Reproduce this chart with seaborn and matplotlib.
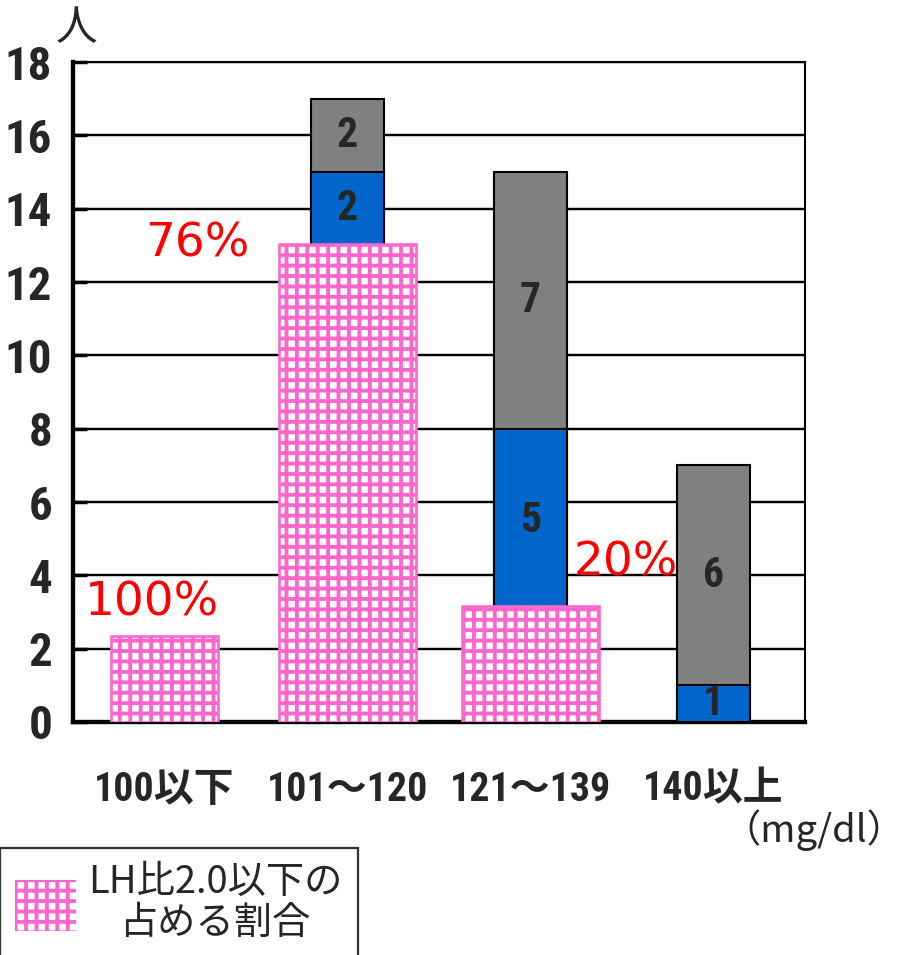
import matplotlib
matplotlib.use("Agg")
import matplotlib.pyplot as plt
from matplotlib import font_manager as fm
from matplotlib.patches import Patch
import seaborn as sns

# data
categories = ["100以下", "101～120", "121～139", "140以上"]
hidden_count = [0, 13, 3, 0]      # part of the stacked bar behind the pink bar
blue_count = [0, 2, 5, 1]
gray_count = [0, 2, 7, 6]
pink_height = [2.35, 13.05, 3.15]
pct_labels = ["100%", "76%", "20%"]
yticks = list(range(0, 19, 2))

sns.set_style("white")
plt.rcParams["font.family"] = ["Noto Sans CJK JP", "DejaVu Sans"]
plt.rcParams["hatch.linewidth"] = 2.2

# look for a condensed face for the numbers
fonts = fm.fontManager.ttflist
names = {f.name for f in fonts}
stretch = "normal"
narrow_face = None
for cand in ["Liberation Sans Narrow", "Roboto Condensed", "Open Sans Condensed",
             "Noto Sans Display"]:
    if cand in names:
        narrow_face = cand
        break
if narrow_face is None:
    for f in fonts:
        if f.name in ("DejaVu Sans", "Roboto", "Open Sans", "Noto Sans") and \
                "ondensed" in str(f.stretch) + f.fname:
            narrow_face = f.name
            stretch = "condensed"
            break
if narrow_face is None:
    narrow_face = "Noto Sans CJK JP"
narrow = dict(family=[narrow_face, "Noto Sans CJK JP"], fontstretch=stretch,
              fontweight="bold")

PINK = "#ff66cc"
BLUE = "#0066cc"
GRAY = "#808080"

fig = plt.figure(figsize=(908 / 125, 955 / 125), dpi=125)
ax = fig.add_axes([0.0804, 0.244, 0.806, 0.691])

totals = [h + b + g for h, b, g in zip(hidden_count, blue_count, gray_count)]
blue_tops = [h + b for h, b in zip(hidden_count, blue_count)]

sns.barplot(x=categories, y=totals, order=categories, color=GRAY, saturation=1,
            width=0.4, edgecolor="black", linewidth=1.2, ax=ax, zorder=2)
sns.barplot(x=categories, y=blue_tops, order=categories, color=BLUE, saturation=1,
            width=0.4, edgecolor="black", linewidth=1.2, ax=ax, zorder=3)

# pink hatched bars, first one is narrower
sns.barplot(x=categories[:1], y=pink_height[:1], order=categories, color="white",
            saturation=1, width=0.585, edgecolor=PINK, linewidth=1.5, hatch="++",
            ax=ax, zorder=4)
sns.barplot(x=categories[1:3], y=pink_height[1:3], order=categories, color="white",
            saturation=1, width=0.75, edgecolor=PINK, linewidth=1.5, hatch="++",
            ax=ax, zorder=4)

# segment labels
for i in range(len(categories)):
    if blue_count[i] > 0:
        ax.text(i, hidden_count[i] + blue_count[i] / 2, str(blue_count[i]),
                ha="center", va="center", fontsize=24, zorder=6, **narrow)
    if gray_count[i] > 0:
        ax.text(i, blue_tops[i] + gray_count[i] / 2, str(gray_count[i]),
                ha="center", va="center", fontsize=24, zorder=6, **narrow)

# percentage labels
pct_pos = [(-0.07, 3.25), (0.18, 13.05), (2.52, 4.35)]
for lab, (px, py) in zip(pct_labels, pct_pos):
    ax.text(px, py, lab, color="red", fontsize=27, ha="center", va="center",
            family=["DejaVu Sans"], zorder=6)

ax.set_xlim(-0.5, 3.5)
ax.set_ylim(0, 18)
ax.set_yticks(yticks)
ax.set_yticklabels([str(t) for t in yticks], fontsize=27, **narrow)
ax.set_xticks(range(len(categories)))
ax.set_xticklabels(categories, fontsize=23, **narrow)
ax.set_xticks([0.5, 1.5, 2.5], minor=True)
ax.tick_params(axis="x", which="major", length=0, pad=28)
ax.tick_params(axis="x", which="minor", direction="in", length=9, width=1.3,
               color="black")
ax.tick_params(axis="y", direction="in", length=8, width=2, color="black", pad=12,
               left=True)
ax.set_xlabel("")
ax.set_ylabel("")

ax.yaxis.grid(True, color="black", linewidth=1.4)
ax.set_axisbelow(True)
for side in ["left", "bottom"]:
    ax.spines[side].set_linewidth(2.5)
    ax.spines[side].set_color("black")
for side in ["top", "right"]:
    ax.spines[side].set_linewidth(1.2)
    ax.spines[side].set_color("black")

fig.text(76 / 908, 1 - 29 / 955, "人", fontsize=24, ha="center", va="center")
fig.text(0.997, 0.131, "（mg/dl）", fontsize=22, ha="right", va="center")

leg = fig.legend(handles=[Patch(facecolor="white", edgecolor=PINK, hatch="++",
                                linewidth=0)],
                 labels=["LH比2.0以下の\n占める割合"], loc="upper left",
                 bbox_to_anchor=(0.0, 1 - 848 / 955), frameon=True, fancybox=False,
                 edgecolor="black", fontsize=22, handlelength=1.6,
                 handleheight=1.7, handletextpad=0.3, borderpad=0.4,
                 borderaxespad=0)
leg.get_frame().set_linewidth(1.3)
for t in leg.get_texts():
    t.set_multialignment("center")
    t.set_linespacing(1.05)

fig.savefig("out.png", dpi=125)
